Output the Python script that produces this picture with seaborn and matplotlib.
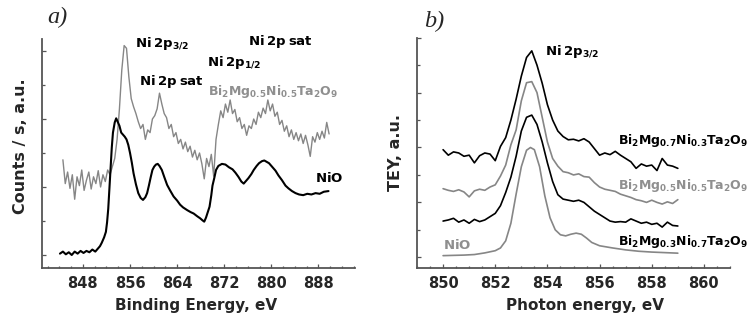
import matplotlib
matplotlib.use("Agg")
import matplotlib.pyplot as plt
from matplotlib.ticker import MultipleLocator
import seaborn as sns

# ---------------- data: panel a (XPS) ----------------
nio_a_e = [844.1, 844.6, 845.1, 845.6, 846.1, 846.6, 847.1, 847.6, 848.1, 848.6,
           849.1, 849.6, 850.1, 850.5, 850.9, 851.2, 851.6, 851.9, 852.1, 852.3,
           852.5, 852.7, 852.9, 853.1, 853.4, 853.65, 853.9, 854.2, 854.5, 854.8,
           855.1, 855.4, 855.7, 856.0, 856.3, 856.6, 857.0, 857.4, 857.8, 858.2,
           858.6, 858.9, 859.2, 859.5, 859.8, 860.1, 860.4, 860.7, 861.0, 861.4,
           861.8, 862.3, 862.8, 863.4, 864.0, 864.5, 865.0, 865.7, 866.3, 866.8,
           867.4, 867.9, 868.3, 868.6, 868.9, 869.2, 869.5, 869.8, 870.0, 870.3,
           870.6, 871.0, 871.6, 872.2, 872.8, 873.4, 873.9, 874.4, 874.9, 875.3,
           875.7, 876.1, 876.6, 877.0, 877.5, 877.9, 878.4, 878.8, 879.2, 879.6,
           880.1, 880.7, 881.2, 881.8, 882.4, 882.9, 883.5, 884.1, 884.7, 885.4,
           886.1, 886.8, 887.5, 888.2, 888.9, 889.7]
nio_a_i = [0.02, 0.05, 0.01, 0.04, 0.00, 0.05, 0.02, 0.06, 0.03, 0.06,
           0.04, 0.08, 0.05, 0.09, 0.13, 0.18, 0.26, 0.34, 0.48, 0.68,
           0.98, 1.28, 1.58, 1.80, 1.95, 2.01, 1.96, 1.90, 1.80, 1.77,
           1.74, 1.70, 1.62, 1.50, 1.36, 1.20, 1.04, 0.91, 0.84, 0.81,
           0.85, 0.91, 1.02, 1.14, 1.25, 1.30, 1.33, 1.34, 1.31, 1.25,
           1.15, 1.03, 0.95, 0.86, 0.80, 0.74, 0.70, 0.66, 0.63, 0.61,
           0.57, 0.54, 0.51, 0.49, 0.55, 0.63, 0.71, 0.88, 1.02, 1.13,
           1.25, 1.31, 1.34, 1.33, 1.29, 1.26, 1.21, 1.15, 1.08, 1.05,
           1.09, 1.13, 1.19, 1.25, 1.31, 1.35, 1.38, 1.39, 1.37, 1.35,
           1.30, 1.24, 1.17, 1.10, 1.02, 0.98, 0.94, 0.91, 0.89, 0.88,
           0.90, 0.89, 0.91, 0.90, 0.93, 0.94]

bmn_a_e = [844.6, 845.0, 845.4, 845.8, 846.2, 846.6, 847.0, 847.4, 847.8, 848.2,
           848.6, 849.0, 849.4, 849.8, 850.2, 850.6, 851.0, 851.4, 851.8, 852.2,
           852.6, 853.0, 853.4, 853.8, 854.2, 854.6, 855.0, 855.4, 855.8, 856.2,
           856.6, 857.0, 857.4, 857.8, 858.2, 858.6, 859.0, 859.4, 859.8, 860.2,
           860.6, 861.0, 861.4, 861.8, 862.2, 862.6, 863.0, 863.4, 863.8, 864.2,
           864.6, 865.0, 865.4, 865.8, 866.2, 866.6, 867.0, 867.4, 867.8, 868.2,
           868.6, 869.0, 869.4, 869.8, 870.2, 870.6, 871.0, 871.4, 871.8, 872.2,
           872.6, 873.0, 873.4, 873.8, 874.2, 874.6, 875.0, 875.4, 875.8, 876.2,
           876.6, 877.0, 877.4, 877.8, 878.2, 878.6, 879.0, 879.4, 879.8, 880.2,
           880.6, 881.0, 881.4, 881.8, 882.2, 882.6, 883.0, 883.4, 883.8, 884.2,
           884.6, 885.0, 885.4, 885.8, 886.2, 886.6, 887.0, 887.4, 887.8, 888.2,
           888.6, 889.0, 889.4, 889.8]
bmn_a_i = [1.40, 1.05, 1.22, 0.98, 1.18, 0.82, 1.15, 1.02, 1.25, 0.95,
           1.10, 1.22, 0.97, 1.15, 1.05, 1.24, 1.00, 1.18, 1.08, 1.25,
           1.18, 1.30, 1.42, 1.70, 2.15, 2.72, 3.08, 3.04, 2.62, 2.30,
           2.18, 2.08, 1.96, 1.86, 1.92, 1.70, 1.84, 1.80, 2.00, 2.05,
           2.15, 2.38, 2.22, 2.08, 2.02, 1.86, 1.92, 1.74, 1.80, 1.64,
           1.70, 1.56, 1.66, 1.52, 1.60, 1.44, 1.54, 1.40, 1.50, 1.34,
           1.12, 1.42, 1.30, 1.48, 1.16, 1.70, 1.92, 2.12, 2.02, 2.22,
           2.10, 2.28, 2.08, 2.14, 1.96, 2.02, 1.86, 1.92, 1.76, 1.90,
           1.86, 2.00, 1.92, 2.10, 2.02, 2.16, 2.08, 2.28, 2.12, 2.22,
           2.04, 2.10, 1.92, 1.98, 1.82, 1.90, 1.74, 1.84, 1.70, 1.80,
           1.68, 1.78, 1.64, 1.76, 1.62, 1.45, 1.74, 1.66, 1.80, 1.70,
           1.82, 1.72, 1.95, 1.78]

# ---------------- data: panel b (XAS, TEY) ----------------
xas_e = [850.0, 850.2, 850.4, 850.6, 850.8, 851.0, 851.2, 851.4, 851.6, 851.8,
         852.0, 852.2, 852.4, 852.6, 852.8, 853.0, 853.2, 853.4, 853.6, 853.8,
         854.0, 854.2, 854.4, 854.6, 854.8, 855.0, 855.2, 855.4, 855.6, 855.8,
         856.0, 856.2, 856.4, 856.6, 856.8, 857.0, 857.2, 857.4, 857.6, 857.8,
         858.0, 858.2, 858.4, 858.6, 858.8, 859.0]
ni03 = [1.96, 1.86, 1.92, 1.90, 1.84, 1.86, 1.72, 1.85, 1.90, 1.88,
        1.76, 2.02, 2.18, 2.50, 2.88, 3.30, 3.64, 3.76, 3.50, 3.17,
        2.78, 2.50, 2.30, 2.20, 2.14, 2.15, 2.12, 2.16, 2.10, 1.98,
        1.86, 1.90, 1.87, 1.93, 1.86, 1.80, 1.74, 1.62, 1.70, 1.66,
        1.68, 1.58, 1.80, 1.68, 1.66, 1.62]
ni05 = [1.25, 1.22, 1.20, 1.23, 1.19, 1.10, 1.21, 1.24, 1.22, 1.28,
        1.32, 1.48, 1.68, 2.05, 2.32, 2.85, 3.18, 3.20, 3.00, 2.55,
        2.10, 1.80, 1.66, 1.56, 1.54, 1.50, 1.52, 1.47, 1.46, 1.36,
        1.28, 1.24, 1.22, 1.20, 1.15, 1.12, 1.09, 1.05, 1.03, 1.00,
        1.04, 1.00, 0.97, 1.01, 0.98, 1.05]
ni07 = [0.66, 0.68, 0.71, 0.64, 0.68, 0.62, 0.69, 0.65, 0.68, 0.74,
        0.80, 0.94, 1.18, 1.46, 1.84, 2.30, 2.55, 2.59, 2.42, 2.10,
        1.72, 1.38, 1.14, 1.06, 1.04, 1.02, 1.04, 1.00, 0.92, 0.84,
        0.78, 0.72, 0.66, 0.64, 0.65, 0.64, 0.70, 0.66, 0.62, 0.64,
        0.60, 0.62, 0.55, 0.64, 0.58, 0.57]
nio_b_e = [850.0, 850.4, 850.8, 851.2, 851.6, 852.0, 852.2, 852.4, 852.6, 852.8,
           853.0, 853.2, 853.35, 853.5, 853.7, 853.9, 854.1, 854.3, 854.5, 854.7,
           854.9, 855.1, 855.3, 855.5, 855.7, 856.0, 856.5, 857.0, 857.5, 858.0,
           858.5, 859.0]
nio_b_i = [0.03, 0.035, 0.04, 0.05, 0.08, 0.12, 0.17, 0.30, 0.62, 1.15,
           1.65, 1.95, 2.00, 1.96, 1.65, 1.12, 0.72, 0.50, 0.41, 0.39,
           0.42, 0.44, 0.42, 0.35, 0.27, 0.21, 0.17, 0.135, 0.11, 0.095,
           0.085, 0.075]

a_xticks = [848, 856, 864, 872, 880, 888]
b_xticks = [850, 852, 854, 856, 858, 860]

# ---------------- style ----------------
sns.set_theme(style="ticks")
plt.rcParams["font.family"] = ["DejaVu Sans"]
plt.rcParams["mathtext.fontset"] = "dejavusans"

BLACK = "#000000"
GREY = "#868686"
GREY_TXT = "#8f8f8f"
SPINE = "#555555"

fig = plt.figure(figsize=(7.56, 3.2), dpi=100)
W, H = 756.0, 320.0
ax1 = fig.add_axes([41.7 / W, 1 - 267.5 / H, (355 - 41.7) / W, (267.5 - 38.5) / H])
ax2 = fig.add_axes([417.0 / W, 1 - 267.5 / H, (730 - 417.0) / W, (267.5 - 37.7) / H])

sns.lineplot(x=bmn_a_e, y=bmn_a_i, ax=ax1, color=GREY, linewidth=1.0,
             estimator=None, sort=False, legend=False)
sns.lineplot(x=nio_a_e, y=nio_a_i, ax=ax1, color=BLACK, linewidth=1.5,
             estimator=None, sort=False, legend=False)

sns.lineplot(x=nio_b_e, y=nio_b_i, ax=ax2, color=GREY, linewidth=1.2,
             estimator=None, sort=False, legend=False)
sns.lineplot(x=xas_e, y=ni07, ax=ax2, color=BLACK, linewidth=1.2,
             estimator=None, sort=False, legend=False)
sns.lineplot(x=xas_e, y=ni05, ax=ax2, color=GREY, linewidth=1.2,
             estimator=None, sort=False, legend=False)
sns.lineplot(x=xas_e, y=ni03, ax=ax2, color=BLACK, linewidth=1.2,
             estimator=None, sort=False, legend=False)

for ax in (ax1, ax2):
    for s in ("top", "right"):
        ax.spines[s].set_visible(False)
    for s in ("left", "bottom"):
        ax.spines[s].set_color(SPINE)
        ax.spines[s].set_linewidth(1.3)
    ax.tick_params(which="both", direction="in", color=SPINE, width=0.9,
                   labelleft=False, left=True, bottom=True)
    ax.tick_params(which="major", length=3.2, pad=6, labelsize=10.5)
    ax.tick_params(which="minor", length=1.8)
    ax.grid(False)

ax1.set_xlim(841, 894.2)
ax1.set_ylim(-0.184, 3.184)
ax1.set_xticks(a_xticks)
ax1.xaxis.set_minor_locator(MultipleLocator(2))
ax1.set_yticks([0, 1, 2, 3])
ax1.yaxis.set_minor_locator(MultipleLocator(0.5))

ax2.set_xlim(849, 861)
ax2.set_ylim(-0.186, 4.0)
ax2.set_xticks(b_xticks)
ax2.xaxis.set_minor_locator(MultipleLocator(0.5))
ax2.set_yticks([0, 1, 2, 3, 4])
ax2.yaxis.set_minor_locator(MultipleLocator(0.5))

ax1.set_xticklabels([str(t) for t in a_xticks], fontweight="bold")
ax2.set_xticklabels([str(t) for t in b_xticks], fontweight="bold")

ax1.set_xlabel("Binding Energy, eV", fontsize=11, fontweight="bold", labelpad=5, x=0.4925)
ax1.set_ylabel("Counts / s, a.u.", fontsize=11.5, fontweight="bold", labelpad=10, y=0.53)
ax2.set_xlabel("Photon energy, eV", fontsize=11, fontweight="bold", labelpad=5, x=0.537)
ax2.set_ylabel("TEY, a.u.", fontsize=11.5, fontweight="bold", labelpad=10)

# panel letters
fig.text(47 / W, 1 - 23.3 / H, "a)", fontsize=17.5, style="italic",
         family=["Liberation Serif"], va="baseline", ha="left")
fig.text(424 / W, 1 - 26.7 / H, "b)", fontsize=17.5, style="italic",
         family=["Liberation Serif"], va="baseline", ha="left")

FS = 9.5
FORM = 9.0
def lab(ax, x, y, s, color=BLACK, fs=FS):
    ax.text(x, y, s, fontsize=fs, color=color, ha="left", va="baseline", clip_on=False)

lab(ax1, 856.9, 3.06, r"$\mathbf{Ni\:2p_{3/2}}$")
lab(ax1, 857.6, 2.50, r"$\mathbf{Ni\:2p\:sat}$")
lab(ax1, 869.05, 2.78, r"$\mathbf{Ni\:2p_{1/2}}$")
lab(ax1, 875.95, 3.09, r"$\mathbf{Ni\:2p\:sat}$")
lab(ax1, 869.3, 2.36, r"$\mathbf{Bi_2Mg_{0.5}Ni_{0.5}Ta_2O_9}$", color=GREY_TXT, fs=FORM)
lab(ax1, 887.45, 1.08, r"$\mathbf{NiO}$")

lab(ax2, 853.89, 3.68, r"$\mathbf{Ni\:2p_{3/2}}$")
lab(ax2, 856.72, 2.07, r"$\mathbf{Bi_2Mg_{0.7}Ni_{0.3}Ta_2O_9}$", fs=FORM)
lab(ax2, 856.72, 1.25, r"$\mathbf{Bi_2Mg_{0.5}Ni_{0.5}Ta_2O_9}$", color=GREY_TXT, fs=FORM)
lab(ax2, 856.72, 0.23, r"$\mathbf{Bi_2Mg_{0.3}Ni_{0.7}Ta_2O_9}$", fs=FORM)
lab(ax2, 850.0, 0.16, r"$\mathbf{NiO}$", color=GREY_TXT)

fig.savefig("out.png", dpi=100)
